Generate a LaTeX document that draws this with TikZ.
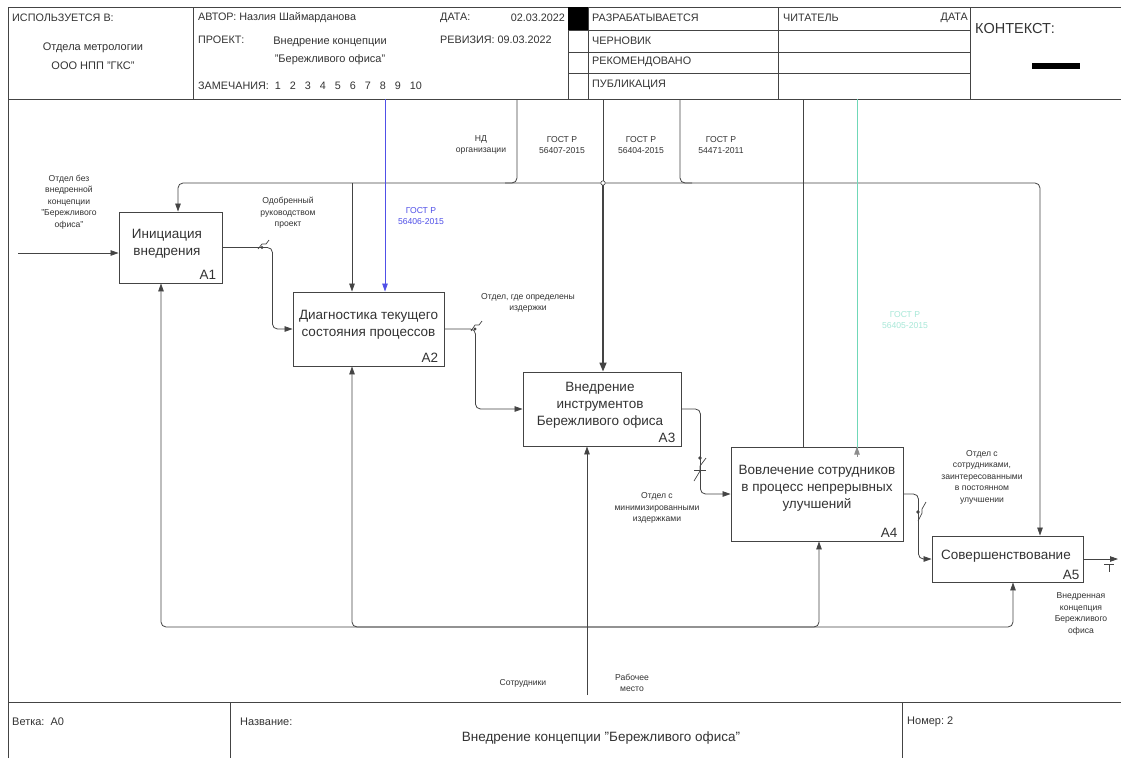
\documentclass[tikz,border=0pt]{standalone}
\usepackage{fontspec}
\setmainfont{Liberation Sans}
\usetikzlibrary{arrows.meta,calc}
\definecolor{ink}{HTML}{333333}
\definecolor{lineg}{HTML}{444444}
\definecolor{bluea}{HTML}{5050E8}
\definecolor{teala}{HTML}{70D8B8}
\definecolor{tealt}{HTML}{A8E8D8}
\begin{document}
\begin{tikzpicture}[x=1pt,y=-1pt,
  frame/.style={draw=lineg, line width=0.9pt},
  hdr/.style={font=\fontsize{10.8}{12}\selectfont, text=ink, inner sep=0pt},
  box/.style={draw=lineg, line width=0.9pt, fill=white, inner sep=0pt, align=center, font=\fontsize{13.5}{17}\selectfont, text=ink},
  num/.style={font=\fontsize{13.5}{15}\selectfont, inner sep=0pt, text=ink},
  lbl/.style={font=\fontsize{8.6}{11.5}\selectfont, align=center, inner sep=0pt, text=ink},
  arr/.style={draw=lineg, line width=0.8pt, rounded corners=5pt, -{Triangle[length=8pt,width=5.5pt]}},
  ln/.style={draw=lineg, line width=0.8pt, rounded corners=5pt},
  squig/.style={draw=lineg, line width=0.7pt},
  dot/.style={fill=lineg}
]
\useasboundingbox (0,0) rectangle (1121,758);
\fill[white] (0,0) rectangle (1121,758);

% ---------- frame ----------
\draw[frame] (8,758) -- (8,7) -- (1121,7);
\draw[frame] (8,99) -- (1121,99);
\draw[frame] (8,702) -- (1121,702);
\draw[frame] (193,7) -- (193,99);
\draw[frame] (568,7) -- (568,99);
\draw[frame] (588,7) -- (588,99);
\draw[frame] (778,7) -- (778,99);
\draw[frame] (970,7) -- (970,99);
\draw[frame] (568,30) -- (970,30);
\draw[frame] (568,52) -- (970,52);
\draw[frame] (568,73) -- (970,73);
\fill[black] (568,7) rectangle (588,30);
\fill[black] (1032,63) rectangle (1080,69);
\draw[frame] (230,702) -- (230,758);
\draw[frame] (902,702) -- (902,758);

% ---------- header texts ----------
\node[hdr, anchor=west] (usedin) at (12,18) {ИСПОЛЬЗУЕТСЯ В:};
\node[hdr, align=center, font=\fontsize{11}{19}\selectfont] (org) at (93,56) {Отдела метрологии\\ООО НПП "ГКС"};
\node[hdr, anchor=west] (author) at (198,18) {АВТОР: Назлия Шаймарданова};
\node[hdr, anchor=west] (datek) at (440,18) {ДАТА:};
\node[hdr, anchor=east] (dateval) at (565,18) {02.03.2022};
\node[hdr, anchor=west] (proj) at (198,40) {ПРОЕКТ:};
\node[hdr, align=center, font=\fontsize{11}{18}\selectfont] (projname) at (330,51) {Внедрение концепции\\"Бережливого офиса"};
\node[hdr, anchor=west] (rev) at (440,40) {РЕВИЗИЯ: 09.03.2022};
\node[hdr, anchor=west] (notes) at (198,86) {ЗАМЕЧАНИЯ:\hspace{6pt}1\hspace{9pt}2\hspace{9pt}3\hspace{9pt}4\hspace{9pt}5\hspace{9pt}6\hspace{9pt}7\hspace{9pt}8\hspace{9pt}9\hspace{9pt}10};
\node[hdr, anchor=west] (st1) at (592,18) {РАЗРАБАТЫВАЕТСЯ};
\node[hdr, anchor=west] (st2) at (592,41) {ЧЕРНОВИК};
\node[hdr, anchor=west] (st3) at (592,62) {РЕКОМЕНДОВАНО};
\node[hdr, anchor=west] (st4) at (592,85) {ПУБЛИКАЦИЯ};
\node[hdr, anchor=west] (reader) at (783,18) {ЧИТАТЕЛЬ};
\node[hdr, anchor=east] (rdate) at (968,18) {ДАТА};
\node[hdr, anchor=west, font=\fontsize{14.5}{16}\selectfont] (ctx) at (975,29) {КОНТЕКСТ:};

% ---------- footer texts ----------
\node[hdr, anchor=west, font=\fontsize{11}{13}\selectfont] (branch) at (12,722) {Ветка:\hspace{6pt}A0};
\node[hdr, anchor=west, font=\fontsize{11}{13}\selectfont] (namek) at (240,722) {Название:};
\node[hdr, font=\fontsize{13.5}{15}\selectfont] (title) at (601,738) {Внедрение концепции "Бережливого офиса"};
\node[hdr, anchor=west, font=\fontsize{11}{13}\selectfont] (numk) at (907,722) {Номер:\hspace{3pt}2};

% ---------- activity boxes ----------
\node[box, minimum width=103pt, minimum height=71pt] (A1) at (170.5,247.5) {};
\node[box, draw=none, fill=none] (A1t) at (167,244) {Инициация\\внедрения};
\node[num, anchor=south east] (A1n) at ([xshift=-6pt,yshift=4pt]A1.south east) {A1};

\node[box, minimum width=151pt, minimum height=74pt] (A2) at (368.5,329) {};
\node[box, draw=none, fill=none] (A2t) at (368.5,324.5) {Диагностика текущего\\состояния процессов};
\node[num, anchor=south east] (A2n) at ([xshift=-6pt,yshift=4pt]A2.south east) {A2};

\node[box, minimum width=158pt, minimum height=74pt] (A3) at (602,409) {};
\node[box, draw=none, fill=none] (A3t) at (600,405) {Внедрение\\инструментов\\Бережливого офиса};
\node[num, anchor=south east] (A3n) at ([xshift=-6pt,yshift=4pt]A3.south east) {A3};

\node[box, minimum width=172pt, minimum height=94pt] (A4) at (817,494) {};
\node[box, draw=none, fill=none] (A4t) at (817,488) {Вовлечение сотрудников\\в процесс непрерывных\\улучшений};
\node[num, anchor=south east] (A4n) at ([xshift=-6pt,yshift=4pt]A4.south east) {A4};

\node[box, minimum width=151pt, minimum height=46pt] (A5) at (1007.5,559) {};
\node[box, draw=none, fill=none] (A5t) at (1006,556) {Совершенствование};
\node[num, anchor=south east] (A5n) at ([xshift=-4pt,yshift=3pt]A5.south east) {A5};

% ---------- coordinates of free ends ----------
\coordinate (in1) at (18,253);
\coordinate (out5) at (1118,559);
\coordinate (ndtop) at (517,99);
\coordinate (g1top) at (603,99);
\coordinate (g2top) at (680,99);
\coordinate (g3top) at (803,99);
\coordinate (bluetop) at (385,99);
\coordinate (tealtop) at (857,99);
\coordinate (bus) at (603,183);
\coordinate (mech) at (587,695);
\coordinate (bbus) at (587,627);

% ---------- inputs / outputs ----------
\draw[arr] (in1) -- (in1 -| A1.west);
\draw[arr] (A1.east) -- ++(50,0) |- (A2.west);
\draw[arr] (A2.east) -- ++(31,0) |- (A3.west);
\draw[arr] (A3.east) -- ++(19,0) |- (A4.west);
\draw[arr] (A4.east) -- ++(15,0) |- (A5.west);
\draw[arr] (A5.east) -- (out5);

% ---------- controls ----------
\draw[arr] (bus) -| ([xshift=7.5pt]A1.north);
\draw[arr] (bus) -| ([xshift=32.5pt]A5.north);
\draw[arr] ([xshift=-16.5pt]A2.north |- bus) -- ([xshift=-16.5pt]A2.north);
\draw[ln] (ndtop) |- ([xshift=-12pt]ndtop |- bus);
\draw[ln] (g1top) -- (bus);
\draw[ln] (g2top) |- ([xshift=12pt]g2top |- bus);
\draw[ln] (g3top) -- (g3top |- A4.north);
\draw[draw=lineg, line width=1.6pt, -{Triangle[length=9pt,width=7pt]}] (bus) -- (bus |- A3.north);
\draw[lineg, fill=white, line width=0.6pt] (bus) circle (2.2pt);
\draw[draw=bluea, line width=0.8pt, -{Triangle[length=8pt,width=5.5pt]}] (bluetop) -- (bluetop |- A2.north);
\draw[draw=teala, line width=0.8pt] (tealtop) -- ([yshift=-10pt]tealtop |- A4.north);
\draw[draw=black!45, line width=0.8pt, -{Triangle[length=8pt,width=5.5pt]}] ([yshift=-10pt]tealtop |- A4.north) -- (tealtop |- A4.north);

% ---------- mechanisms ----------
\draw[arr] (mech) -- (mech |- A3.south);
\draw[arr] (bbus) -| ([xshift=-9.5pt]A1.south);
\draw[arr] (bbus) -| ([xshift=-16.5pt]A2.south);
\draw[arr] (bbus) -| ([xshift=2pt]A4.south);
\draw[arr] (bbus) -| ([xshift=5.5pt]A5.south);

% ---------- squiggles ----------
\fill[dot] (262,247.5) circle (1.6pt);
\draw[squig] (258,249) -- (262,244) -- (266,244) -- (269,240);
\fill[dot] (475,329) circle (1.6pt);
\draw[squig] (471,331) -- (475,325) -- (479,325) -- (482,321);
\fill[dot] (700,458) circle (1.8pt);
\draw[squig] (694,481) -- (700,471) -- (700,466) -- (706,458);
\draw[squig] (694,470) -- (706,470);
\fill[dot] (918,512) circle (1.8pt);
\draw[squig] (918,521) -- (922,513) -- (922,509) -- (926,502);
\draw[squig] (1104,564) -- (1114,564);
\draw[squig] (1109,564) -- (1109,572);

% ---------- labels ----------
\node[lbl] (Lin1) at (69,202) {Отдел без\\внедренной\\концепции\\"Бережливого\\офиса"};
\node[lbl] (L12) at (288,213) {Одобренный\\руководством\\проект};
\node[lbl] (L23) at (528,303) {Отдел, где определены\\издержки};
\node[lbl] (L34) at (657,508) {Отдел с\\минимизированными\\издержками};
\node[lbl] (L45) at (982,477) {Отдел с\\сотрудниками,\\заинтересованными\\в постоянном\\улучшении};
\node[lbl] (Lout) at (1081,614) {Внедренная\\концепция\\Бережливого\\офиса};
\node[lbl] (Lnd) at (481,145) {НД\\организации};
\node[lbl] (Lg1) at (562,145) {ГОСТ Р\\56407-2015};
\node[lbl] (Lg2) at (641,145) {ГОСТ Р\\56404-2015};
\node[lbl] (Lg3) at (721,145) {ГОСТ Р\\54471-2011};
\node[lbl, text=bluea] (Lblue) at (421,216) {ГОСТ Р\\56406-2015};
\node[lbl, text=tealt] (Lteal) at (905,320) {ГОСТ Р\\56405-2015};
\node[lbl] (Lsotr) at (523,683) {Сотрудники};
\node[lbl] (Lrab) at (632,683) {Рабочее\\место};
\end{tikzpicture}
\end{document}
